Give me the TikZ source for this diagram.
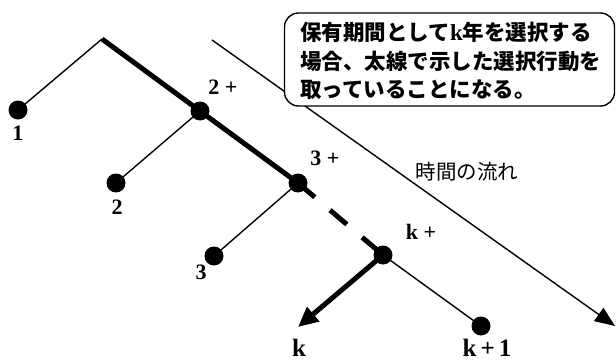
\documentclass[tikz,border=0pt]{standalone}
\usepackage{fontspec}
\newfontfamily\cjk{Noto Sans CJK JP}
\newfontfamily\lserif{Liberation Serif}
\usetikzlibrary{arrows.meta}
\tikzset{
  dot/.style={circle,fill=black,inner sep=0pt,minimum size=19pt},
  thinline/.style={line width=1.4pt},
  thickline/.style={line width=5pt},
  lab/.style={font=\lserif\fontsize{22}{22}\selectfont\bfseries,inner sep=0pt},
  labbig/.style={font=\lserif\fontsize{25}{25}\selectfont\bfseries,inner sep=0pt},
  callout/.style={draw,line width=1.4pt,rounded corners=14pt,fill=white,inner sep=0pt},
}
\begin{document}
\begin{tikzpicture}[x=1pt,y=-1pt]
\useasboundingbox (0,0) rectangle (616,361);
% time arrow
\coordinate (ts) at (212,40);
\coordinate (te) at (615,326);
\draw[thinline,-{Triangle[length=20pt,width=16pt]}] (ts) -- (te);
\node[font=\cjk\fontsize{20.5}{20}\selectfont,inner sep=0pt] (flow) at (467,172) {時間の流れ};
% callout
\node[callout,minimum width=330pt,minimum height=93pt] (box) at (449.5,59.5) {};
\node[font=\cjk\fontsize{21.5}{28.5}\selectfont\bfseries,align=left,inner sep=0pt,anchor=west] (txt) at (300,61)
  {保有期間として{\lserif\bfseries\fontsize{23}{28}\selectfont k}年を選択する\\場合、太線で示した選択行動を\\取っていることになる。};
% tree
\coordinate (root) at (102,39);
\node[dot] (n1) at (18,110) {};
\node[dot] (n2p) at (200,111) {};
\node[dot] (n2) at (116,183) {};
\node[dot] (n3p) at (298,183) {};
\node[dot] (n3) at (214,256) {};
\node[dot] (nkp) at (383,255) {};
\node[dot] (nk1) at (481,326) {};
\coordinate (kend) at (298,327);
\draw[thinline] (root) -- (n1.center);
\draw[thinline] (n2p.center) -- (n2.center);
\draw[thinline] (n3p.center) -- (n3.center);
\draw[thinline] (nkp.center) -- (nk1.center);
\draw[thickline] (root) -- (n2p.center) -- (n3p.center);
\draw[thickline,dash pattern=on 22pt off 20pt] (n3p.center) -- (nkp.center);
\draw[thickline,-{Triangle[length=20pt,width=18pt]}] (nkp.center) -- (kend);
% labels
\node[lab] (l1) at (18,133) {1};
\node[lab] (l2p) at (223,87) {2 +};
\node[lab] (l2) at (117,207) {2};
\node[lab] (l3p) at (325,158) {3 +};
\node[lab] (l3) at (201,272) {3};
\node[lab] (lkp) at (421,232) {k +};
\node[labbig] (lk) at (299,348) {k};
\node[labbig] (lk1) at (487,348) {k\,+\,1};
\end{tikzpicture}
\end{document}
